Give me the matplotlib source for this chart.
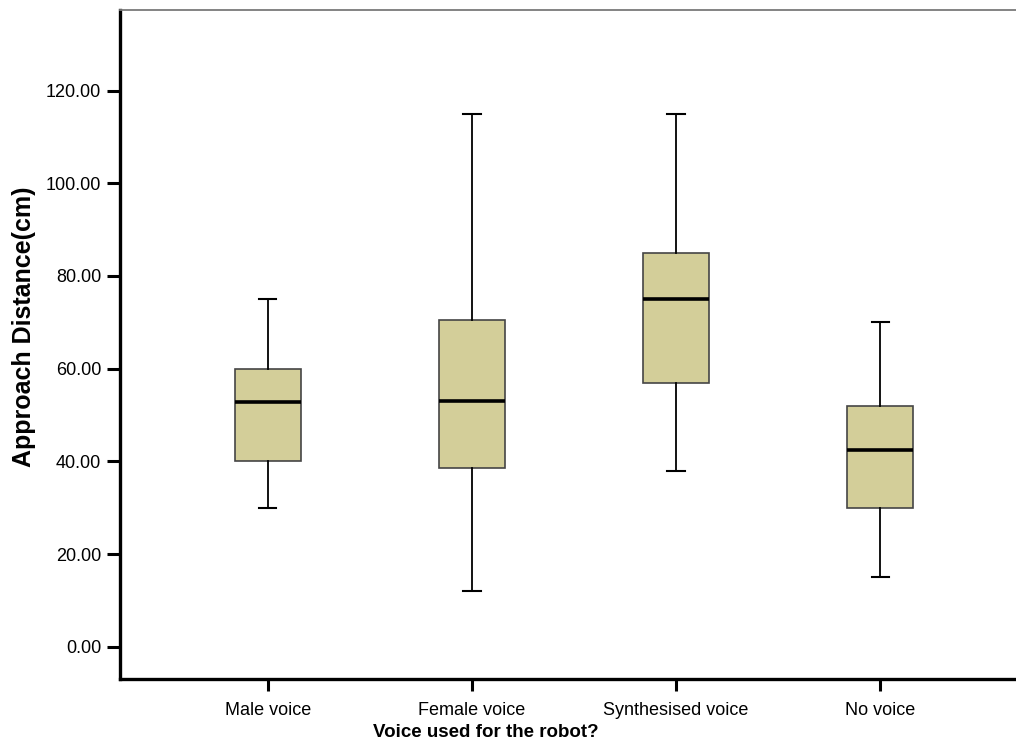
import matplotlib
matplotlib.use("Agg")
import matplotlib.pyplot as plt

# Data
categories = ["Male voice", "Female voice", "Synthesised voice", "No voice"]
whisker_low = [30.0, 12.0, 38.0, 15.0]
q1 = [40.0, 38.5, 57.0, 30.0]
medians = [52.7, 53.0, 75.0, 42.5]
q3 = [60.0, 70.5, 85.0, 52.0]
whisker_high = [75.0, 115.0, 115.0, 70.0]
y_ticks = [0, 20, 40, 60, 80, 100, 120]
y_tick_labels = ["0.00", "20.00", "40.00", "60.00", "80.00", "100.00", "120.00"]

plt.rcParams["font.family"] = ["Liberation Sans", "DejaVu Sans"]

fig = plt.figure(figsize=(10.16, 7.55), dpi=100)
ax = fig.add_axes([120 / 1016, 76 / 755, 896 / 1016, 669 / 755])

stats = []
for i, c in enumerate(categories):
    stats.append({
        "label": c,
        "whislo": whisker_low[i],
        "q1": q1[i],
        "med": medians[i],
        "q3": q3[i],
        "whishi": whisker_high[i],
        "fliers": [],
    })

positions = list(range(1, len(categories) + 1))
ax.bxp(
    stats,
    positions=positions,
    widths=0.322,
    capwidths=0.085,
    patch_artist=True,
    showfliers=False,
    boxprops=dict(facecolor="#D3CE99", edgecolor="#454545", linewidth=1.2),
    medianprops=dict(color="black", linewidth=2.6),
    whiskerprops=dict(color="black", linewidth=1.3),
    capprops=dict(color="black", linewidth=1.5),
)

ax.set_xlim(0.276, 4.665)
ax.set_ylim(-6.97, 137.4)

ax.set_yticks(y_ticks)
ax.set_yticklabels(y_tick_labels)
ax.set_xticks(positions)
ax.set_xticklabels(categories)

ax.tick_params(axis="y", length=9.5, width=2.2, pad=4, labelsize=13, colors="black")
ax.tick_params(axis="x", length=8.5, width=2.2, pad=8, labelsize=13, colors="black")

for s in ["left", "bottom"]:
    ax.spines[s].set_linewidth(2.4)
    ax.spines[s].set_color("black")
ax.spines["right"].set_visible(False)
ax.spines["top"].set_color("#7a7a7a")
ax.spines["top"].set_linewidth(1.3)

ax.set_ylabel("Approach Distance(cm)", fontsize=18, fontweight="bold")
ax.set_xlabel("Voice used for the robot?", fontsize=13.5, fontweight="bold")
ax.yaxis.set_label_coords(-0.094, 0.526)
ax.xaxis.set_label_coords(0.408, -0.068)

fig.savefig("out.png", dpi=100)
